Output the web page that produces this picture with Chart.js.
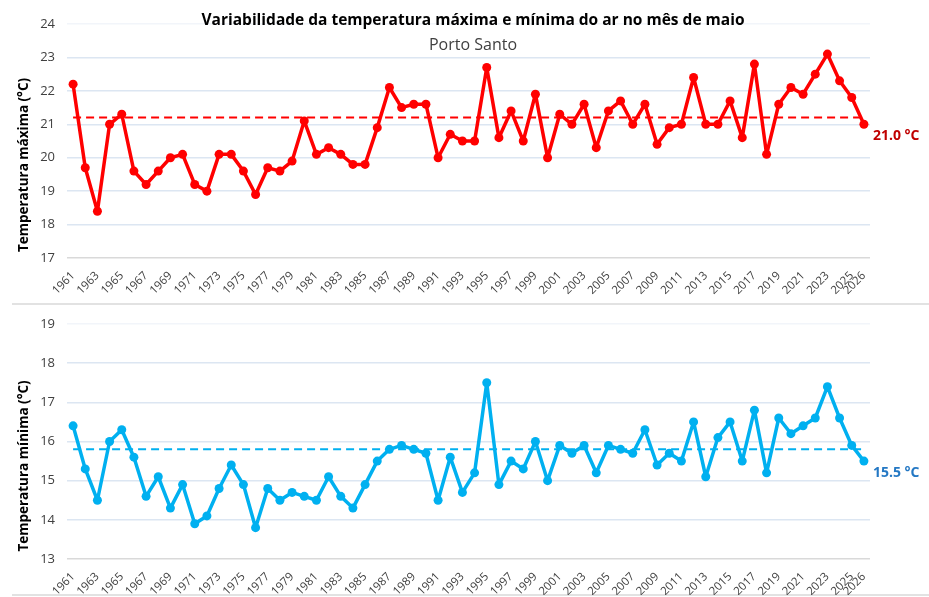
<!DOCTYPE html>
<html>
<head>
<meta charset="utf-8">
<script src="https://cdn.jsdelivr.net/npm/chart.js@4.4.1/dist/chart.umd.min.js"></script>
<style>
  body { margin: 0; background: #fff; }
  canvas { display: block; }
</style>
</head>
<body>
<canvas id="graficoMax" width="929" height="300"></canvas>
<canvas id="graficoMin" width="929" height="297"></canvas>
<script>
// anos (categorias)
const anos = ['1961','1962','1963','1964','1965','1966','1967','1968','1969','1970',
  '1971','1972','1973','1974','1975','1976','1977','1978','1979','1980',
  '1981','1982','1983','1984','1985','1986','1987','1988','1989','1990',
  '1991','1992','1993','1994','1995','1996','1997','1998','1999','2000',
  '2001','2002','2003','2004','2005','2006','2007','2008','2009','2010',
  '2011','2012','2013','2014','2015','2016','2017','2018','2019','2020',
  '2021','2022','2023','2024','2025','2026'];

// anos que aparecem no eixo
const anosEixo = ['1961','1963','1965','1967','1969','1971','1973','1975','1977','1979',
  '1981','1983','1985','1987','1989','1991','1993','1995','1997','1999',
  '2001','2003','2005','2007','2009','2011','2013','2015','2017','2019',
  '2021','2023','2025','2026'];

// temperatura maxima (°C)
const tempMaxima = [22.2, 19.7, 18.4, 21.0, 21.3, 19.6, 19.2, 19.6, 20.0, 20.1,
  19.2, 19.0, 20.1, 20.1, 19.6, 18.9, 19.7, 19.6, 19.9, 21.1,
  20.1, 20.3, 20.1, 19.8, 19.8, 20.9, 22.1, 21.5, 21.6, 21.6,
  20.0, 20.7, 20.5, 20.5, 22.7, 20.6, 21.4, 20.5, 21.9, 20.0,
  21.3, 21.0, 21.6, 20.3, 21.4, 21.7, 21.0, 21.6, 20.4, 20.9,
  21.0, 22.4, 21.0, 21.0, 21.7, 20.6, 22.8, 20.1, 21.6, 22.1,
  21.9, 22.5, 23.1, 22.3, 21.8, 21.0];

// temperatura minima (°C)
const tempMinima = [16.4, 15.3, 14.5, 16.0, 16.3, 15.6, 14.6, 15.1, 14.3, 14.9,
  13.9, 14.1, 14.8, 15.4, 14.9, 13.8, 14.8, 14.5, 14.7, 14.6,
  14.5, 15.1, 14.6, 14.3, 14.9, 15.5, 15.8, 15.9, 15.8, 15.7,
  14.5, 15.6, 14.7, 15.2, 17.5, 14.9, 15.5, 15.3, 16.0, 15.0,
  15.9, 15.7, 15.9, 15.2, 15.9, 15.8, 15.7, 16.3, 15.4, 15.7,
  15.5, 16.5, 15.1, 16.1, 16.5, 15.5, 16.8, 15.2, 16.6, 16.2,
  16.4, 16.6, 17.4, 16.6, 15.9, 15.5];

// medias (linhas tracejadas)
const mediaMaxima = 21.2;
const mediaMinima = 15.8;

const FONTE = "'Open Sans', 'Liberation Sans', sans-serif";
const titulo = 'Variabilidade da temperatura máxima e mínima do ar no mês de maio';
const subtitulo = 'Porto Santo';

function rotuloFinal(cor) {
  return {
    id: 'rotuloFinal',
    afterDatasetsDraw(chart) {
      const ctx = chart.ctx;
      const meta = chart.getDatasetMeta(0);
      const ultimo = meta.data[meta.data.length - 1];
      const valor = chart.data.datasets[0].data[meta.data.length - 1];
      ctx.save();
      ctx.font = 'bold 14px ' + FONTE;
      ctx.fillStyle = cor;
      ctx.textAlign = 'left';
      ctx.textBaseline = 'middle';
      ctx.fillText(valor.toFixed(1) + ' °C', ultimo.x + 9, ultimo.y + 12);
      ctx.restore();
    }
  };
}

function tituloEixoY(texto, yCentro) {
  return {
    id: 'tituloEixoY',
    afterDraw(chart) {
      const ctx = chart.ctx;
      ctx.save();
      ctx.translate(24, yCentro);
      ctx.rotate(-Math.PI / 2);
      ctx.textAlign = 'center';
      ctx.textBaseline = 'middle';
      ctx.fillStyle = '#000';
      ctx.font = 'bold 13.5px ' + FONTE;
      ctx.fillText(texto, 0, 0);
      ctx.restore();
    }
  };
}

const textosTopo = {
  id: 'textosTopo',
  afterDraw(chart) {
    const ctx = chart.ctx;
    ctx.save();
    ctx.textAlign = 'center';
    ctx.textBaseline = 'middle';
    ctx.fillStyle = '#000';
    ctx.font = 'bold 15.5px ' + FONTE;
    ctx.fillText(titulo, 473, 21);
    ctx.fillStyle = '#404040';
    ctx.font = '16px ' + FONTE;
    ctx.fillText(subtitulo, 473, 45);
    ctx.restore();
  }
};

const bordas = {
  id: 'bordas',
  beforeDraw(chart) {
    const ctx = chart.ctx;
    ctx.save();
    ctx.strokeStyle = '#d9d9d9';
    ctx.lineWidth = 1.5;
    ctx.beginPath();
    ctx.moveTo(12, 4);
    ctx.lineTo(929, 4);
    ctx.moveTo(12, 295);
    ctx.lineTo(929, 295);
    ctx.stroke();
    ctx.restore();
  }
};

function criarGrafico(id, dados, media, cor, minimo, maximo, corRotulo, alturaX, extras) {
  return new Chart(document.getElementById(id), {
    type: 'line',
    data: {
      labels: anos,
      datasets: [
        {
          data: dados,
          borderColor: cor,
          backgroundColor: cor,
          borderWidth: 3.5,
          borderJoinStyle: 'round',
          pointRadius: 4.5,
          pointBackgroundColor: cor,
          pointBorderWidth: 0,
          tension: 0
        },
        {
          data: anos.map(() => media),
          borderColor: cor,
          borderWidth: 2,
          borderDash: [8, 5],
          pointRadius: 0,
          fill: false
        }
      ]
    },
    options: {
      responsive: false,
      animation: false,
      layout: { padding: { top: 24, right: 59, left: 12, bottom: 2 } },
      plugins: { legend: { display: false }, tooltip: { enabled: false } },
      scales: {
        x: {
          offset: true,
          grid: { display: false, drawTicks: false },
          border: { display: false },
          ticks: {
            autoSkip: false,
            minRotation: 45,
            maxRotation: 45,
            padding: 11,
            color: '#404040',
            font: (c) => ({ family: FONTE, size: 11.5, weight: anos[c.index] === '2026' ? 'bold' : 'normal' }),
            callback: function (v, i) {
              const a = anos[i];
              return anosEixo.includes(a) ? a : null;
            }
          },
          afterFit(s) { s.height = alturaX; }
        },
        y: {
          min: minimo,
          max: maximo,
          border: { display: false },
          grid: {
            drawTicks: false,
            lineWidth: 1.5,
            color: (c) => c.tick.value === minimo ? '#d9d9d9' : (c.tick.value === maximo ? '#f2f5fa' : '#dce6f2')
          },
          ticks: {
            stepSize: 1,
            padding: 12,
            color: '#404040',
            font: { family: FONTE, size: 13 }
          },
          afterFit(s) { s.width = 55; }
        }
      }
    },
    plugins: [rotuloFinal(corRotulo)].concat(extras)
  });
}

criarGrafico('graficoMax', tempMaxima, mediaMaxima, '#ff0000', 17, 24, '#c00000', 40,
  [textosTopo, tituloEixoY('Temperatura máxima (°C)', 165)]);
criarGrafico('graficoMin', tempMinima, mediaMinima, '#00b0f0', 13, 19, '#2478c4', 36,
  [bordas, tituloEixoY('Temperatura mínima (°C)', 166)]);
</script>
</body>
</html>
